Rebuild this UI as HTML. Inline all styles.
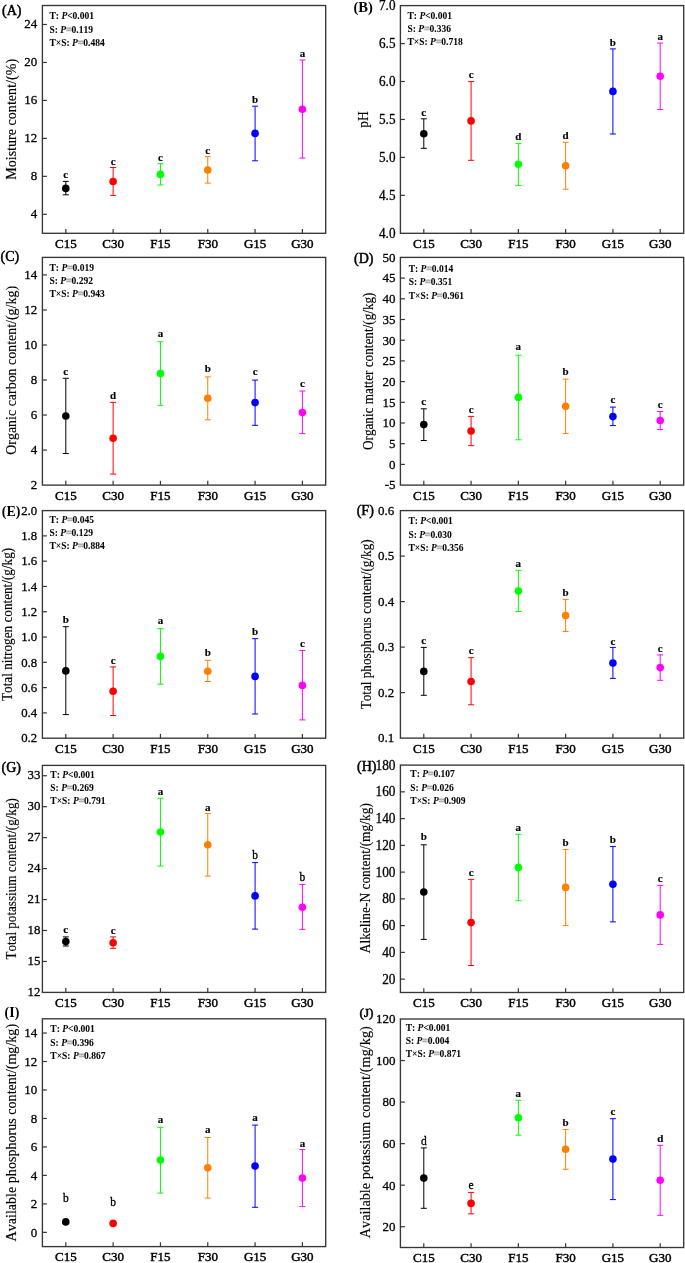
<!DOCTYPE html>
<html><head><meta charset="utf-8"><style>
html,body{margin:0;padding:0;background:#fff;}
svg{display:block;filter:blur(0.35px);}
text{font-family:"Liberation Serif",serif;font-kerning:none;fill:#000;stroke:#000;stroke-width:0;}
.fr{fill:none;stroke:#363636;stroke-width:1.35;}
.tk{stroke:#363636;stroke-width:1.2;}
.eb{fill:none;stroke-width:1.0;}
.yl{text-anchor:end;stroke-width:0.3px;}
.xl{text-anchor:middle;font-weight:normal;stroke-width:0.45px;}
.yt{text-anchor:middle;stroke-width:0.15px;}
.pl{font-size:14px;font-weight:normal;stroke-width:0.5px;}
.st{font-size:9.5px;font-weight:bold;stroke-width:0.06px;}
.it{font-style:italic;}
.eq{fill:#b0b0b0;stroke:#b0b0b0;stroke-width:0.9px;}
.lb{font-size:11px;font-weight:bold;text-anchor:middle;stroke-width:0.15px;}
.lr{font-size:11.5px;text-anchor:middle;stroke-width:0.3px;}
</style></head><body>
<svg width="685" height="1263" viewBox="0 0 685 1263">
<g><rect x="42.4" y="5.5" width="283.3" height="227.8" class="fr"/><line x1="42.4" y1="214.32" x2="46.9" y2="214.32" class="tk"/><text transform="translate(37.2,218.07) scale(0.9709,1)" class="yl" style="font-size:13.39px">4</text><line x1="42.4" y1="176.35" x2="46.9" y2="176.35" class="tk"/><text transform="translate(37.2,180.11) scale(0.9709,1)" class="yl" style="font-size:13.39px">8</text><line x1="42.4" y1="138.38" x2="46.9" y2="138.38" class="tk"/><text transform="translate(37.2,142.14) scale(0.9709,1)" class="yl" style="font-size:13.39px">12</text><line x1="42.4" y1="100.42" x2="46.9" y2="100.42" class="tk"/><text transform="translate(37.2,104.17) scale(0.9709,1)" class="yl" style="font-size:13.39px">16</text><line x1="42.4" y1="62.45" x2="46.9" y2="62.45" class="tk"/><text transform="translate(37.2,66.2) scale(0.9709,1)" class="yl" style="font-size:13.39px">20</text><line x1="42.4" y1="24.48" x2="46.9" y2="24.48" class="tk"/><text transform="translate(37.2,28.24) scale(0.9709,1)" class="yl" style="font-size:13.39px">24</text><line x1="65.8" y1="233.3" x2="65.8" y2="229" class="tk"/><text transform="translate(65.8,248.1) scale(1.0000,1)" class="xl" style="font-size:13.00px">C15</text><line x1="113.12" y1="233.3" x2="113.12" y2="229" class="tk"/><text transform="translate(113.12,248.1) scale(1.0000,1)" class="xl" style="font-size:13.00px">C30</text><line x1="160.44" y1="233.3" x2="160.44" y2="229" class="tk"/><text transform="translate(160.44,248.1) scale(1.0000,1)" class="xl" style="font-size:13.00px">F15</text><line x1="207.76" y1="233.3" x2="207.76" y2="229" class="tk"/><text transform="translate(207.76,248.1) scale(1.0000,1)" class="xl" style="font-size:13.00px">F30</text><line x1="255.08" y1="233.3" x2="255.08" y2="229" class="tk"/><text transform="translate(255.08,248.1) scale(1.0000,1)" class="xl" style="font-size:13.00px">G15</text><line x1="302.4" y1="233.3" x2="302.4" y2="229" class="tk"/><text transform="translate(302.4,248.1) scale(1.0000,1)" class="xl" style="font-size:13.00px">G30</text><text transform="translate(15.8,119.4) rotate(-90) scale(0.9217,1)" class="yt" style="font-size:15.30px">Moisture content/(%)</text><text x="2" y="14.6" class="pl" style="font-size:14px">(A)</text><text x="49.5" y="19.3" class="st">T: <tspan class="it">P</tspan>&lt;0.001</text><text x="49.5" y="32.55" class="st">S: <tspan class="it">P</tspan><tspan class="eq">=</tspan>0.119</text><text x="49.5" y="45.8" class="st">T×S: <tspan class="it">P</tspan><tspan class="eq">=</tspan>0.484</text><path d="M65.8 181.4V194.8M62.8 181.4H68.8M62.8 194.8H68.8" stroke="#000000" class="eb"/><circle cx="65.8" cy="188.4" r="3.8" fill="#000000"/><text x="65.8" y="178" class="lb">c</text><path d="M113.12 167.5V195.4M110.12 167.5H116.12M110.12 195.4H116.12" stroke="#ff0000" class="eb"/><circle cx="113.12" cy="181.5" r="3.8" fill="#ff0000"/><text x="113.12" y="164.6" class="lb">c</text><path d="M160.44 163.7V185M157.44 163.7H163.44M157.44 185H163.44" stroke="#00ff00" class="eb"/><circle cx="160.44" cy="174.4" r="3.8" fill="#00ff00"/><text x="160.44" y="160.5" class="lb">c</text><path d="M207.76 156.7V183.1M204.76 156.7H210.76M204.76 183.1H210.76" stroke="#ff8000" class="eb"/><circle cx="207.76" cy="170" r="3.8" fill="#ff8000"/><text x="207.76" y="153.7" class="lb">c</text><path d="M255.08 106.2V160.8M252.08 106.2H258.08M252.08 160.8H258.08" stroke="#0000ff" class="eb"/><circle cx="255.08" cy="133.4" r="3.8" fill="#0000ff"/><text x="255.08" y="103.3" class="lb">b</text><path d="M302.4 60V158.1M299.4 60H305.4M299.4 158.1H305.4" stroke="#ff00ff" class="eb"/><circle cx="302.4" cy="109.2" r="3.8" fill="#ff00ff"/><text x="302.4" y="56.6" class="lb">a</text></g>
<g><rect x="400.4" y="5.6" width="283.3" height="227.7" class="fr"/><text transform="translate(395.5,237.72) scale(0.9709,1)" class="yl" style="font-size:13.60px">4.0</text><line x1="400.4" y1="195.35" x2="404.9" y2="195.35" class="tk"/><text transform="translate(395.5,199.77) scale(0.9709,1)" class="yl" style="font-size:13.60px">4.5</text><line x1="400.4" y1="157.4" x2="404.9" y2="157.4" class="tk"/><text transform="translate(395.5,161.82) scale(0.9709,1)" class="yl" style="font-size:13.60px">5.0</text><line x1="400.4" y1="119.45" x2="404.9" y2="119.45" class="tk"/><text transform="translate(395.5,123.87) scale(0.9709,1)" class="yl" style="font-size:13.60px">5.5</text><line x1="400.4" y1="81.5" x2="404.9" y2="81.5" class="tk"/><text transform="translate(395.5,85.92) scale(0.9709,1)" class="yl" style="font-size:13.60px">6.0</text><line x1="400.4" y1="43.55" x2="404.9" y2="43.55" class="tk"/><text transform="translate(395.5,47.97) scale(0.9709,1)" class="yl" style="font-size:13.60px">6.5</text><text transform="translate(395.5,10.02) scale(0.9709,1)" class="yl" style="font-size:13.60px">7.0</text><line x1="423.8" y1="233.3" x2="423.8" y2="229" class="tk"/><text transform="translate(423.8,248.1) scale(1.0000,1)" class="xl" style="font-size:13.00px">C15</text><line x1="471.08" y1="233.3" x2="471.08" y2="229" class="tk"/><text transform="translate(471.08,248.1) scale(1.0000,1)" class="xl" style="font-size:13.00px">C30</text><line x1="518.36" y1="233.3" x2="518.36" y2="229" class="tk"/><text transform="translate(518.36,248.1) scale(1.0000,1)" class="xl" style="font-size:13.00px">F15</text><line x1="565.64" y1="233.3" x2="565.64" y2="229" class="tk"/><text transform="translate(565.64,248.1) scale(1.0000,1)" class="xl" style="font-size:13.00px">F30</text><line x1="612.92" y1="233.3" x2="612.92" y2="229" class="tk"/><text transform="translate(612.92,248.1) scale(1.0000,1)" class="xl" style="font-size:13.00px">G15</text><line x1="660.2" y1="233.3" x2="660.2" y2="229" class="tk"/><text transform="translate(660.2,248.1) scale(1.0000,1)" class="xl" style="font-size:13.00px">G30</text><text transform="translate(367.9,119.45) rotate(-90) scale(0.9217,1)" class="yt" style="font-size:14.65px">pH</text><text x="353.5" y="12.2" class="pl" style="font-size:14.6px;font-weight:bold;stroke-width:0">(B)</text><text x="407.5" y="18.9" class="st">T: <tspan class="it">P</tspan>&lt;0.001</text><text x="407.5" y="32.15" class="st">S: <tspan class="it">P</tspan><tspan class="eq">=</tspan>0.336</text><text x="407.5" y="45.4" class="st">T×S: <tspan class="it">P</tspan><tspan class="eq">=</tspan>0.718</text><path d="M423.8 118.8V148.3M420.8 118.8H426.8M420.8 148.3H426.8" stroke="#000000" class="eb"/><circle cx="423.8" cy="133.7" r="3.8" fill="#000000"/><text x="423.8" y="115.6" class="lb">c</text><path d="M471.08 81.6V160.3M468.08 81.6H474.08M468.08 160.3H474.08" stroke="#ff0000" class="eb"/><circle cx="471.08" cy="120.9" r="3.8" fill="#ff0000"/><text x="471.08" y="78.3" class="lb">c</text><path d="M518.36 143.4V185.4M515.36 143.4H521.36M515.36 185.4H521.36" stroke="#00ff00" class="eb"/><circle cx="518.36" cy="164.2" r="3.8" fill="#00ff00"/><text x="518.36" y="140.1" class="lb">d</text><path d="M565.64 142.3V189.2M562.64 142.3H568.64M562.64 189.2H568.64" stroke="#ff8000" class="eb"/><circle cx="565.64" cy="165.7" r="3.8" fill="#ff8000"/><text x="565.64" y="139.1" class="lb">d</text><path d="M612.92 48.9V134M609.92 48.9H615.92M609.92 134H615.92" stroke="#0000ff" class="eb"/><circle cx="612.92" cy="91.4" r="3.8" fill="#0000ff"/><text x="612.92" y="46" class="lb">b</text><path d="M660.2 43.1V109.5M657.2 43.1H663.2M657.2 109.5H663.2" stroke="#ff00ff" class="eb"/><circle cx="660.2" cy="76.2" r="3.8" fill="#ff00ff"/><text x="660.2" y="40.1" class="lb">a</text></g>
<g><rect x="42.4" y="257.4" width="283.3" height="227.7" class="fr"/><text transform="translate(37.2,489.46) scale(0.9709,1)" class="yl" style="font-size:13.39px">2</text><line x1="42.4" y1="450.07" x2="46.9" y2="450.07" class="tk"/><text transform="translate(37.2,454.42) scale(0.9709,1)" class="yl" style="font-size:13.39px">4</text><line x1="42.4" y1="415.04" x2="46.9" y2="415.04" class="tk"/><text transform="translate(37.2,419.39) scale(0.9709,1)" class="yl" style="font-size:13.39px">6</text><line x1="42.4" y1="380.01" x2="46.9" y2="380.01" class="tk"/><text transform="translate(37.2,384.36) scale(0.9709,1)" class="yl" style="font-size:13.39px">8</text><line x1="42.4" y1="344.98" x2="46.9" y2="344.98" class="tk"/><text transform="translate(37.2,349.33) scale(0.9709,1)" class="yl" style="font-size:13.39px">10</text><line x1="42.4" y1="309.95" x2="46.9" y2="309.95" class="tk"/><text transform="translate(37.2,314.3) scale(0.9709,1)" class="yl" style="font-size:13.39px">12</text><line x1="42.4" y1="274.92" x2="46.9" y2="274.92" class="tk"/><text transform="translate(37.2,279.27) scale(0.9709,1)" class="yl" style="font-size:13.39px">14</text><line x1="65.8" y1="485.1" x2="65.8" y2="480.8" class="tk"/><text transform="translate(65.8,499.9) scale(1.0000,1)" class="xl" style="font-size:13.00px">C15</text><line x1="113.12" y1="485.1" x2="113.12" y2="480.8" class="tk"/><text transform="translate(113.12,499.9) scale(1.0000,1)" class="xl" style="font-size:13.00px">C30</text><line x1="160.44" y1="485.1" x2="160.44" y2="480.8" class="tk"/><text transform="translate(160.44,499.9) scale(1.0000,1)" class="xl" style="font-size:13.00px">F15</text><line x1="207.76" y1="485.1" x2="207.76" y2="480.8" class="tk"/><text transform="translate(207.76,499.9) scale(1.0000,1)" class="xl" style="font-size:13.00px">F30</text><line x1="255.08" y1="485.1" x2="255.08" y2="480.8" class="tk"/><text transform="translate(255.08,499.9) scale(1.0000,1)" class="xl" style="font-size:13.00px">G15</text><line x1="302.4" y1="485.1" x2="302.4" y2="480.8" class="tk"/><text transform="translate(302.4,499.9) scale(1.0000,1)" class="xl" style="font-size:13.00px">G30</text><text transform="translate(15.8,370.35) rotate(-90) scale(0.9217,1)" class="yt" style="font-size:15.14px">Organic carbon content/(g/kg)</text><text x="0.6" y="261.1" class="pl" style="font-size:14px">(C)</text><text x="49.5" y="270.9" class="st">T: <tspan class="it">P</tspan><tspan class="eq">=</tspan>0.019</text><text x="49.5" y="284.15" class="st">S: <tspan class="it">P</tspan><tspan class="eq">=</tspan>0.292</text><text x="49.5" y="297.4" class="st">T×S: <tspan class="it">P</tspan><tspan class="eq">=</tspan>0.943</text><path d="M65.8 378.3V453.5M62.8 378.3H68.8M62.8 453.5H68.8" stroke="#000000" class="eb"/><circle cx="65.8" cy="416" r="3.8" fill="#000000"/><text x="65.8" y="374.7" class="lb">c</text><path d="M113.12 402.4V474.1M110.12 402.4H116.12M110.12 474.1H116.12" stroke="#ff0000" class="eb"/><circle cx="113.12" cy="438.2" r="3.8" fill="#ff0000"/><text x="113.12" y="398.8" class="lb">d</text><path d="M160.44 341.8V405.3M157.44 341.8H163.44M157.44 405.3H163.44" stroke="#00ff00" class="eb"/><circle cx="160.44" cy="373.5" r="3.8" fill="#00ff00"/><text x="160.44" y="337" class="lb">a</text><path d="M207.76 376.9V419.8M204.76 376.9H210.76M204.76 419.8H210.76" stroke="#ff8000" class="eb"/><circle cx="207.76" cy="398.2" r="3.8" fill="#ff8000"/><text x="207.76" y="372" class="lb">b</text><path d="M255.08 380.1V425.3M252.08 380.1H258.08M252.08 425.3H258.08" stroke="#0000ff" class="eb"/><circle cx="255.08" cy="402.6" r="3.8" fill="#0000ff"/><text x="255.08" y="374.5" class="lb">c</text><path d="M302.4 391V433.6M299.4 391H305.4M299.4 433.6H305.4" stroke="#ff00ff" class="eb"/><circle cx="302.4" cy="412.5" r="3.8" fill="#ff00ff"/><text x="302.4" y="386.9" class="lb">c</text></g>
<g><rect x="400.4" y="257.4" width="283.3" height="227.7" class="fr"/><text transform="translate(395.5,489.46) scale(0.9709,1)" class="yl" style="font-size:13.39px">-5</text><line x1="400.4" y1="464.4" x2="404.9" y2="464.4" class="tk"/><text transform="translate(395.5,468.76) scale(0.9709,1)" class="yl" style="font-size:13.39px">0</text><line x1="400.4" y1="443.7" x2="404.9" y2="443.7" class="tk"/><text transform="translate(395.5,448.06) scale(0.9709,1)" class="yl" style="font-size:13.39px">5</text><line x1="400.4" y1="423" x2="404.9" y2="423" class="tk"/><text transform="translate(395.5,427.36) scale(0.9709,1)" class="yl" style="font-size:13.39px">10</text><line x1="400.4" y1="402.3" x2="404.9" y2="402.3" class="tk"/><text transform="translate(395.5,406.66) scale(0.9709,1)" class="yl" style="font-size:13.39px">15</text><line x1="400.4" y1="381.6" x2="404.9" y2="381.6" class="tk"/><text transform="translate(395.5,385.96) scale(0.9709,1)" class="yl" style="font-size:13.39px">20</text><line x1="400.4" y1="360.9" x2="404.9" y2="360.9" class="tk"/><text transform="translate(395.5,365.25) scale(0.9709,1)" class="yl" style="font-size:13.39px">25</text><line x1="400.4" y1="340.2" x2="404.9" y2="340.2" class="tk"/><text transform="translate(395.5,344.56) scale(0.9709,1)" class="yl" style="font-size:13.39px">30</text><line x1="400.4" y1="319.5" x2="404.9" y2="319.5" class="tk"/><text transform="translate(395.5,323.86) scale(0.9709,1)" class="yl" style="font-size:13.39px">35</text><line x1="400.4" y1="298.8" x2="404.9" y2="298.8" class="tk"/><text transform="translate(395.5,303.15) scale(0.9709,1)" class="yl" style="font-size:13.39px">40</text><line x1="400.4" y1="278.1" x2="404.9" y2="278.1" class="tk"/><text transform="translate(395.5,282.46) scale(0.9709,1)" class="yl" style="font-size:13.39px">45</text><text transform="translate(395.5,261.75) scale(0.9709,1)" class="yl" style="font-size:13.39px">50</text><line x1="423.8" y1="485.1" x2="423.8" y2="480.8" class="tk"/><text transform="translate(423.8,499.9) scale(1.0000,1)" class="xl" style="font-size:13.00px">C15</text><line x1="471.08" y1="485.1" x2="471.08" y2="480.8" class="tk"/><text transform="translate(471.08,499.9) scale(1.0000,1)" class="xl" style="font-size:13.00px">C30</text><line x1="518.36" y1="485.1" x2="518.36" y2="480.8" class="tk"/><text transform="translate(518.36,499.9) scale(1.0000,1)" class="xl" style="font-size:13.00px">F15</text><line x1="565.64" y1="485.1" x2="565.64" y2="480.8" class="tk"/><text transform="translate(565.64,499.9) scale(1.0000,1)" class="xl" style="font-size:13.00px">F30</text><line x1="612.92" y1="485.1" x2="612.92" y2="480.8" class="tk"/><text transform="translate(612.92,499.9) scale(1.0000,1)" class="xl" style="font-size:13.00px">G15</text><line x1="660.2" y1="485.1" x2="660.2" y2="480.8" class="tk"/><text transform="translate(660.2,499.9) scale(1.0000,1)" class="xl" style="font-size:13.00px">G30</text><text transform="translate(372.6,371.25) rotate(-90) scale(0.9217,1)" class="yt" style="font-size:14.32px">Organic matter content/(g/kg)</text><text x="354.1" y="262.5" class="pl" style="font-size:14px">(D)</text><text x="408.7" y="272" class="st">T: <tspan class="it">P</tspan><tspan class="eq">=</tspan>0.014</text><text x="408.7" y="285.25" class="st">S: <tspan class="it">P</tspan><tspan class="eq">=</tspan>0.351</text><text x="408.7" y="298.5" class="st">T×S: <tspan class="it">P</tspan><tspan class="eq">=</tspan>0.961</text><path d="M423.8 408.8V440.5M420.8 408.8H426.8M420.8 440.5H426.8" stroke="#000000" class="eb"/><circle cx="423.8" cy="424.6" r="3.8" fill="#000000"/><text x="423.8" y="405.2" class="lb">c</text><path d="M471.08 416.4V445.6M468.08 416.4H474.08M468.08 445.6H474.08" stroke="#ff0000" class="eb"/><circle cx="471.08" cy="431" r="3.8" fill="#ff0000"/><text x="471.08" y="413.2" class="lb">c</text><path d="M518.36 355.3V439.8M515.36 355.3H521.36M515.36 439.8H521.36" stroke="#00ff00" class="eb"/><circle cx="518.36" cy="397.4" r="3.8" fill="#00ff00"/><text x="518.36" y="350.4" class="lb">a</text><path d="M565.64 379.2V433.4M562.64 379.2H568.64M562.64 433.4H568.64" stroke="#ff8000" class="eb"/><circle cx="565.64" cy="406.2" r="3.8" fill="#ff8000"/><text x="565.64" y="375.3" class="lb">b</text><path d="M612.92 407.1V425.6M609.92 407.1H615.92M609.92 425.6H615.92" stroke="#0000ff" class="eb"/><circle cx="612.92" cy="416.6" r="3.8" fill="#0000ff"/><text x="612.92" y="403" class="lb">c</text><path d="M660.2 411.5V429.6M657.2 411.5H663.2M657.2 429.6H663.2" stroke="#ff00ff" class="eb"/><circle cx="660.2" cy="420.5" r="3.8" fill="#ff00ff"/><text x="660.2" y="407.8" class="lb">c</text></g>
<g><rect x="42.4" y="510.6" width="283.3" height="227.6" class="fr"/><text transform="translate(37.2,742.49) scale(0.9709,1)" class="yl" style="font-size:13.18px">0.2</text><line x1="42.4" y1="712.91" x2="46.9" y2="712.91" class="tk"/><text transform="translate(37.2,717.2) scale(0.9709,1)" class="yl" style="font-size:13.18px">0.4</text><line x1="42.4" y1="687.62" x2="46.9" y2="687.62" class="tk"/><text transform="translate(37.2,691.91) scale(0.9709,1)" class="yl" style="font-size:13.18px">0.6</text><line x1="42.4" y1="662.33" x2="46.9" y2="662.33" class="tk"/><text transform="translate(37.2,666.62) scale(0.9709,1)" class="yl" style="font-size:13.18px">0.8</text><line x1="42.4" y1="637.04" x2="46.9" y2="637.04" class="tk"/><text transform="translate(37.2,641.33) scale(0.9709,1)" class="yl" style="font-size:13.18px">1.0</text><line x1="42.4" y1="611.76" x2="46.9" y2="611.76" class="tk"/><text transform="translate(37.2,616.04) scale(0.9709,1)" class="yl" style="font-size:13.18px">1.2</text><line x1="42.4" y1="586.47" x2="46.9" y2="586.47" class="tk"/><text transform="translate(37.2,590.75) scale(0.9709,1)" class="yl" style="font-size:13.18px">1.4</text><line x1="42.4" y1="561.18" x2="46.9" y2="561.18" class="tk"/><text transform="translate(37.2,565.47) scale(0.9709,1)" class="yl" style="font-size:13.18px">1.6</text><line x1="42.4" y1="535.89" x2="46.9" y2="535.89" class="tk"/><text transform="translate(37.2,540.18) scale(0.9709,1)" class="yl" style="font-size:13.18px">1.8</text><text transform="translate(37.2,514.89) scale(0.9709,1)" class="yl" style="font-size:13.18px">2.0</text><line x1="65.8" y1="738.2" x2="65.8" y2="733.9" class="tk"/><text transform="translate(65.8,753) scale(1.0000,1)" class="xl" style="font-size:13.00px">C15</text><line x1="113.12" y1="738.2" x2="113.12" y2="733.9" class="tk"/><text transform="translate(113.12,753) scale(1.0000,1)" class="xl" style="font-size:13.00px">C30</text><line x1="160.44" y1="738.2" x2="160.44" y2="733.9" class="tk"/><text transform="translate(160.44,753) scale(1.0000,1)" class="xl" style="font-size:13.00px">F15</text><line x1="207.76" y1="738.2" x2="207.76" y2="733.9" class="tk"/><text transform="translate(207.76,753) scale(1.0000,1)" class="xl" style="font-size:13.00px">F30</text><line x1="255.08" y1="738.2" x2="255.08" y2="733.9" class="tk"/><text transform="translate(255.08,753) scale(1.0000,1)" class="xl" style="font-size:13.00px">G15</text><line x1="302.4" y1="738.2" x2="302.4" y2="733.9" class="tk"/><text transform="translate(302.4,753) scale(1.0000,1)" class="xl" style="font-size:13.00px">G30</text><text transform="translate(12,624.4) rotate(-90) scale(0.9217,1)" class="yt" style="font-size:14.32px">Total nitrogen content/(g/kg)</text><text x="1.75" y="516.3" class="pl" style="font-size:14px;font-weight:bold;stroke-width:0">(E)</text><text x="49.5" y="522.6" class="st">T: <tspan class="it">P</tspan><tspan class="eq">=</tspan>0.045</text><text x="49.5" y="535.85" class="st">S: <tspan class="it">P</tspan><tspan class="eq">=</tspan>0.129</text><text x="49.5" y="549.1" class="st">T×S: <tspan class="it">P</tspan><tspan class="eq">=</tspan>0.884</text><path d="M65.8 626.7V714.6M62.8 626.7H68.8M62.8 714.6H68.8" stroke="#000000" class="eb"/><circle cx="65.8" cy="670.9" r="3.8" fill="#000000"/><text x="65.8" y="622.6" class="lb">b</text><path d="M113.12 666.9V715.5M110.12 666.9H116.12M110.12 715.5H116.12" stroke="#ff0000" class="eb"/><circle cx="113.12" cy="691.2" r="3.8" fill="#ff0000"/><text x="113.12" y="663.5" class="lb">c</text><path d="M160.44 628.6V684.2M157.44 628.6H163.44M157.44 684.2H163.44" stroke="#00ff00" class="eb"/><circle cx="160.44" cy="656.4" r="3.8" fill="#00ff00"/><text x="160.44" y="624.1" class="lb">a</text><path d="M207.76 660.3V681.5M204.76 660.3H210.76M204.76 681.5H210.76" stroke="#ff8000" class="eb"/><circle cx="207.76" cy="671.2" r="3.8" fill="#ff8000"/><text x="207.76" y="655.9" class="lb">b</text><path d="M255.08 638.7V714M252.08 638.7H258.08M252.08 714H258.08" stroke="#0000ff" class="eb"/><circle cx="255.08" cy="676.4" r="3.8" fill="#0000ff"/><text x="255.08" y="634.7" class="lb">b</text><path d="M302.4 650.5V719.9M299.4 650.5H305.4M299.4 719.9H305.4" stroke="#ff00ff" class="eb"/><circle cx="302.4" cy="685.4" r="3.8" fill="#ff00ff"/><text x="302.4" y="647.4" class="lb">c</text></g>
<g><rect x="400.4" y="510.6" width="283.3" height="227.5" class="fr"/><text transform="translate(394.3,742.46) scale(0.9709,1)" class="yl" style="font-size:13.39px">0.1</text><line x1="400.4" y1="692.6" x2="404.9" y2="692.6" class="tk"/><text transform="translate(394.3,696.96) scale(0.9709,1)" class="yl" style="font-size:13.39px">0.2</text><line x1="400.4" y1="647.1" x2="404.9" y2="647.1" class="tk"/><text transform="translate(394.3,651.46) scale(0.9709,1)" class="yl" style="font-size:13.39px">0.3</text><line x1="400.4" y1="601.6" x2="404.9" y2="601.6" class="tk"/><text transform="translate(394.3,605.96) scale(0.9709,1)" class="yl" style="font-size:13.39px">0.4</text><line x1="400.4" y1="556.1" x2="404.9" y2="556.1" class="tk"/><text transform="translate(394.3,560.46) scale(0.9709,1)" class="yl" style="font-size:13.39px">0.5</text><text transform="translate(394.3,514.95) scale(0.9709,1)" class="yl" style="font-size:13.39px">0.6</text><line x1="423.8" y1="738.1" x2="423.8" y2="733.8" class="tk"/><text transform="translate(423.8,752.9) scale(1.0000,1)" class="xl" style="font-size:13.00px">C15</text><line x1="471.08" y1="738.1" x2="471.08" y2="733.8" class="tk"/><text transform="translate(471.08,752.9) scale(1.0000,1)" class="xl" style="font-size:13.00px">C30</text><line x1="518.36" y1="738.1" x2="518.36" y2="733.8" class="tk"/><text transform="translate(518.36,752.9) scale(1.0000,1)" class="xl" style="font-size:13.00px">F15</text><line x1="565.64" y1="738.1" x2="565.64" y2="733.8" class="tk"/><text transform="translate(565.64,752.9) scale(1.0000,1)" class="xl" style="font-size:13.00px">F30</text><line x1="612.92" y1="738.1" x2="612.92" y2="733.8" class="tk"/><text transform="translate(612.92,752.9) scale(1.0000,1)" class="xl" style="font-size:13.00px">G15</text><line x1="660.2" y1="738.1" x2="660.2" y2="733.8" class="tk"/><text transform="translate(660.2,752.9) scale(1.0000,1)" class="xl" style="font-size:13.00px">G30</text><text transform="translate(370.6,624.35) rotate(-90) scale(0.9217,1)" class="yt" style="font-size:14.32px">Total phosphorus content/(g/kg)</text><text x="356.7" y="515" class="pl" style="font-size:14px">(F)</text><text x="408.4" y="524.3" class="st">T: <tspan class="it">P</tspan>&lt;0.001</text><text x="408.4" y="537.55" class="st">S: <tspan class="it">P</tspan><tspan class="eq">=</tspan>0.030</text><text x="408.4" y="550.8" class="st">T×S: <tspan class="it">P</tspan><tspan class="eq">=</tspan>0.356</text><path d="M423.8 647.4V695.3M420.8 647.4H426.8M420.8 695.3H426.8" stroke="#000000" class="eb"/><circle cx="423.8" cy="671.4" r="3.8" fill="#000000"/><text x="423.8" y="643.9" class="lb">c</text><path d="M471.08 657.7V704.8M468.08 657.7H474.08M468.08 704.8H474.08" stroke="#ff0000" class="eb"/><circle cx="471.08" cy="681.5" r="3.8" fill="#ff0000"/><text x="471.08" y="654.2" class="lb">c</text><path d="M518.36 570.4V611.5M515.36 570.4H521.36M515.36 611.5H521.36" stroke="#00ff00" class="eb"/><circle cx="518.36" cy="591.1" r="3.8" fill="#00ff00"/><text x="518.36" y="567" class="lb">a</text><path d="M565.64 599.4V631.5M562.64 599.4H568.64M562.64 631.5H568.64" stroke="#ff8000" class="eb"/><circle cx="565.64" cy="615.5" r="3.8" fill="#ff8000"/><text x="565.64" y="596.2" class="lb">b</text><path d="M612.92 647.4V678.4M609.92 647.4H615.92M609.92 678.4H615.92" stroke="#0000ff" class="eb"/><circle cx="612.92" cy="663.1" r="3.8" fill="#0000ff"/><text x="612.92" y="644.5" class="lb">c</text><path d="M660.2 654.9V680.3M657.2 654.9H663.2M657.2 680.3H663.2" stroke="#ff00ff" class="eb"/><circle cx="660.2" cy="667.6" r="3.8" fill="#ff00ff"/><text x="660.2" y="652.1" class="lb">c</text></g>
<g><rect x="42.4" y="765.4" width="283.3" height="227" class="fr"/><text transform="translate(40.4,995.62) scale(0.9709,1)" class="yl" style="font-size:13.29px">12</text><line x1="42.4" y1="961.45" x2="46.9" y2="961.45" class="tk"/><text transform="translate(40.4,964.67) scale(0.9709,1)" class="yl" style="font-size:13.29px">15</text><line x1="42.4" y1="930.49" x2="46.9" y2="930.49" class="tk"/><text transform="translate(40.4,933.71) scale(0.9709,1)" class="yl" style="font-size:13.29px">18</text><line x1="42.4" y1="899.54" x2="46.9" y2="899.54" class="tk"/><text transform="translate(40.4,902.76) scale(0.9709,1)" class="yl" style="font-size:13.29px">21</text><line x1="42.4" y1="868.58" x2="46.9" y2="868.58" class="tk"/><text transform="translate(40.4,871.8) scale(0.9709,1)" class="yl" style="font-size:13.29px">24</text><line x1="42.4" y1="837.63" x2="46.9" y2="837.63" class="tk"/><text transform="translate(40.4,840.85) scale(0.9709,1)" class="yl" style="font-size:13.29px">27</text><line x1="42.4" y1="806.67" x2="46.9" y2="806.67" class="tk"/><text transform="translate(40.4,809.89) scale(0.9709,1)" class="yl" style="font-size:13.29px">30</text><line x1="42.4" y1="775.72" x2="46.9" y2="775.72" class="tk"/><text transform="translate(40.4,778.94) scale(0.9709,1)" class="yl" style="font-size:13.29px">33</text><line x1="65.8" y1="992.4" x2="65.8" y2="988.1" class="tk"/><text transform="translate(65.8,1007.2) scale(1.0000,1)" class="xl" style="font-size:13.00px">C15</text><line x1="113.12" y1="992.4" x2="113.12" y2="988.1" class="tk"/><text transform="translate(113.12,1007.2) scale(1.0000,1)" class="xl" style="font-size:13.00px">C30</text><line x1="160.44" y1="992.4" x2="160.44" y2="988.1" class="tk"/><text transform="translate(160.44,1007.2) scale(1.0000,1)" class="xl" style="font-size:13.00px">F15</text><line x1="207.76" y1="992.4" x2="207.76" y2="988.1" class="tk"/><text transform="translate(207.76,1007.2) scale(1.0000,1)" class="xl" style="font-size:13.00px">F30</text><line x1="255.08" y1="992.4" x2="255.08" y2="988.1" class="tk"/><text transform="translate(255.08,1007.2) scale(1.0000,1)" class="xl" style="font-size:13.00px">G15</text><line x1="302.4" y1="992.4" x2="302.4" y2="988.1" class="tk"/><text transform="translate(302.4,1007.2) scale(1.0000,1)" class="xl" style="font-size:13.00px">G30</text><text transform="translate(15.8,878.9) rotate(-90) scale(0.9217,1)" class="yt" style="font-size:14.21px">Total potassium content/(g/kg)</text><text x="1.5" y="772.4" class="pl" style="font-size:14px">(G)</text><text x="50.3" y="777.6" class="st">T: <tspan class="it">P</tspan>&lt;0.001</text><text x="50.3" y="790.85" class="st">S: <tspan class="it">P</tspan><tspan class="eq">=</tspan>0.269</text><text x="50.3" y="804.1" class="st">T×S: <tspan class="it">P</tspan><tspan class="eq">=</tspan>0.791</text><path d="M65.8 936.9V946M62.8 936.9H68.8M62.8 946H68.8" stroke="#000000" class="eb"/><circle cx="65.8" cy="941.6" r="3.8" fill="#000000"/><text x="65.8" y="932.8" class="lb">c</text><path d="M113.12 936.9V948.3M110.12 936.9H116.12M110.12 948.3H116.12" stroke="#ff0000" class="eb"/><circle cx="113.12" cy="942.8" r="3.8" fill="#ff0000"/><text x="113.12" y="933.7" class="lb">c</text><path d="M160.44 798.2V866.1M157.44 798.2H163.44M157.44 866.1H163.44" stroke="#00ff00" class="eb"/><circle cx="160.44" cy="832" r="3.8" fill="#00ff00"/><text x="160.44" y="794.9" class="lb">a</text><path d="M207.76 813.6V876.1M204.76 813.6H210.76M204.76 876.1H210.76" stroke="#ff8000" class="eb"/><circle cx="207.76" cy="844.8" r="3.8" fill="#ff8000"/><text x="207.76" y="810.7" class="lb">a</text><path d="M255.08 862.6V929.1M252.08 862.6H258.08M252.08 929.1H258.08" stroke="#0000ff" class="eb"/><circle cx="255.08" cy="895.9" r="3.8" fill="#0000ff"/><text x="255.08" y="859.3" class="lr">b</text><path d="M302.4 884.4V929.3M299.4 884.4H305.4M299.4 929.3H305.4" stroke="#ff00ff" class="eb"/><circle cx="302.4" cy="907.2" r="3.8" fill="#ff00ff"/><text x="302.4" y="881.2" class="lr">b</text></g>
<g><rect x="400.4" y="765.1" width="283.3" height="227.4" class="fr"/><line x1="400.4" y1="979.12" x2="404.9" y2="979.12" class="tk"/><text transform="translate(395.5,983.58) scale(0.9709,1)" class="yl" style="font-size:13.70px">20</text><line x1="400.4" y1="952.37" x2="404.9" y2="952.37" class="tk"/><text transform="translate(395.5,956.83) scale(0.9709,1)" class="yl" style="font-size:13.70px">40</text><line x1="400.4" y1="925.62" x2="404.9" y2="925.62" class="tk"/><text transform="translate(395.5,930.07) scale(0.9709,1)" class="yl" style="font-size:13.70px">60</text><line x1="400.4" y1="898.86" x2="404.9" y2="898.86" class="tk"/><text transform="translate(395.5,903.32) scale(0.9709,1)" class="yl" style="font-size:13.70px">80</text><line x1="400.4" y1="872.11" x2="404.9" y2="872.11" class="tk"/><text transform="translate(395.5,876.57) scale(0.9709,1)" class="yl" style="font-size:13.70px">100</text><line x1="400.4" y1="845.36" x2="404.9" y2="845.36" class="tk"/><text transform="translate(395.5,849.81) scale(0.9709,1)" class="yl" style="font-size:13.70px">120</text><line x1="400.4" y1="818.61" x2="404.9" y2="818.61" class="tk"/><text transform="translate(395.5,823.06) scale(0.9709,1)" class="yl" style="font-size:13.70px">140</text><line x1="400.4" y1="791.85" x2="404.9" y2="791.85" class="tk"/><text transform="translate(395.5,796.31) scale(0.9709,1)" class="yl" style="font-size:13.70px">160</text><text transform="translate(395.5,769.56) scale(0.9709,1)" class="yl" style="font-size:13.70px">180</text><line x1="423.8" y1="992.5" x2="423.8" y2="988.2" class="tk"/><text transform="translate(423.8,1007.3) scale(1.0000,1)" class="xl" style="font-size:13.00px">C15</text><line x1="471.08" y1="992.5" x2="471.08" y2="988.2" class="tk"/><text transform="translate(471.08,1007.3) scale(1.0000,1)" class="xl" style="font-size:13.00px">C30</text><line x1="518.36" y1="992.5" x2="518.36" y2="988.2" class="tk"/><text transform="translate(518.36,1007.3) scale(1.0000,1)" class="xl" style="font-size:13.00px">F15</text><line x1="565.64" y1="992.5" x2="565.64" y2="988.2" class="tk"/><text transform="translate(565.64,1007.3) scale(1.0000,1)" class="xl" style="font-size:13.00px">F30</text><line x1="612.92" y1="992.5" x2="612.92" y2="988.2" class="tk"/><text transform="translate(612.92,1007.3) scale(1.0000,1)" class="xl" style="font-size:13.00px">G15</text><line x1="660.2" y1="992.5" x2="660.2" y2="988.2" class="tk"/><text transform="translate(660.2,1007.3) scale(1.0000,1)" class="xl" style="font-size:13.00px">G30</text><text transform="translate(369.6,878.2) rotate(-90) scale(0.9217,1)" class="yt" style="font-size:14.56px">Alkeline-N content/(mg/kg)</text><text x="357" y="770.7" class="pl" style="font-size:14px">(H)</text><text x="410.3" y="777.3" class="st">T: <tspan class="it">P</tspan><tspan class="eq">=</tspan>0.107</text><text x="410.3" y="790.55" class="st">S: <tspan class="it">P</tspan><tspan class="eq">=</tspan>0.026</text><text x="410.3" y="803.8" class="st">T×S: <tspan class="it">P</tspan><tspan class="eq">=</tspan>0.909</text><path d="M423.8 844.8V939.4M420.8 844.8H426.8M420.8 939.4H426.8" stroke="#000000" class="eb"/><circle cx="423.8" cy="892" r="3.8" fill="#000000"/><text x="423.8" y="840" class="lb">b</text><path d="M471.08 879.4V965.5M468.08 879.4H474.08M468.08 965.5H474.08" stroke="#ff0000" class="eb"/><circle cx="471.08" cy="922.6" r="3.8" fill="#ff0000"/><text x="471.08" y="875.5" class="lb">c</text><path d="M518.36 834.3V900.7M515.36 834.3H521.36M515.36 900.7H521.36" stroke="#00ff00" class="eb"/><circle cx="518.36" cy="867.4" r="3.8" fill="#00ff00"/><text x="518.36" y="831" class="lb">a</text><path d="M565.64 849.5V925.4M562.64 849.5H568.64M562.64 925.4H568.64" stroke="#ff8000" class="eb"/><circle cx="565.64" cy="887.4" r="3.8" fill="#ff8000"/><text x="565.64" y="845.5" class="lb">b</text><path d="M612.92 846.6V921.9M609.92 846.6H615.92M609.92 921.9H615.92" stroke="#0000ff" class="eb"/><circle cx="612.92" cy="884.2" r="3.8" fill="#0000ff"/><text x="612.92" y="843.4" class="lb">b</text><path d="M660.2 885.4V944.4M657.2 885.4H663.2M657.2 944.4H663.2" stroke="#ff00ff" class="eb"/><circle cx="660.2" cy="914.9" r="3.8" fill="#ff00ff"/><text x="660.2" y="882" class="lb">c</text></g>
<g><rect x="42.4" y="1018.8" width="283.3" height="227.8" class="fr"/><line x1="42.4" y1="1232.36" x2="46.9" y2="1232.36" class="tk"/><text transform="translate(37.2,1236.72) scale(0.9709,1)" class="yl" style="font-size:13.39px">0</text><line x1="42.4" y1="1203.89" x2="46.9" y2="1203.89" class="tk"/><text transform="translate(37.2,1208.24) scale(0.9709,1)" class="yl" style="font-size:13.39px">2</text><line x1="42.4" y1="1175.41" x2="46.9" y2="1175.41" class="tk"/><text transform="translate(37.2,1179.77) scale(0.9709,1)" class="yl" style="font-size:13.39px">4</text><line x1="42.4" y1="1146.94" x2="46.9" y2="1146.94" class="tk"/><text transform="translate(37.2,1151.29) scale(0.9709,1)" class="yl" style="font-size:13.39px">6</text><line x1="42.4" y1="1118.46" x2="46.9" y2="1118.46" class="tk"/><text transform="translate(37.2,1122.82) scale(0.9709,1)" class="yl" style="font-size:13.39px">8</text><line x1="42.4" y1="1089.99" x2="46.9" y2="1089.99" class="tk"/><text transform="translate(37.2,1094.34) scale(0.9709,1)" class="yl" style="font-size:13.39px">10</text><line x1="42.4" y1="1061.51" x2="46.9" y2="1061.51" class="tk"/><text transform="translate(37.2,1065.87) scale(0.9709,1)" class="yl" style="font-size:13.39px">12</text><line x1="42.4" y1="1033.04" x2="46.9" y2="1033.04" class="tk"/><text transform="translate(37.2,1037.39) scale(0.9709,1)" class="yl" style="font-size:13.39px">14</text><line x1="65.8" y1="1246.6" x2="65.8" y2="1242.3" class="tk"/><text transform="translate(65.8,1261.4) scale(1.0000,1)" class="xl" style="font-size:13.00px">C15</text><line x1="113.12" y1="1246.6" x2="113.12" y2="1242.3" class="tk"/><text transform="translate(113.12,1261.4) scale(1.0000,1)" class="xl" style="font-size:13.00px">C30</text><line x1="160.44" y1="1246.6" x2="160.44" y2="1242.3" class="tk"/><text transform="translate(160.44,1261.4) scale(1.0000,1)" class="xl" style="font-size:13.00px">F15</text><line x1="207.76" y1="1246.6" x2="207.76" y2="1242.3" class="tk"/><text transform="translate(207.76,1261.4) scale(1.0000,1)" class="xl" style="font-size:13.00px">F30</text><line x1="255.08" y1="1246.6" x2="255.08" y2="1242.3" class="tk"/><text transform="translate(255.08,1261.4) scale(1.0000,1)" class="xl" style="font-size:13.00px">G15</text><line x1="302.4" y1="1246.6" x2="302.4" y2="1242.3" class="tk"/><text transform="translate(302.4,1261.4) scale(1.0000,1)" class="xl" style="font-size:13.00px">G30</text><text transform="translate(16.1,1132.7) rotate(-90) scale(0.9217,1)" class="yt" style="font-size:15.30px">Available phosphorus content/(mg/kg)</text><text x="4.6" y="1017" class="pl" style="font-size:14px;font-weight:bold;stroke-width:0">(I)</text><text x="50.3" y="1032.3" class="st">T: <tspan class="it">P</tspan>&lt;0.001</text><text x="50.3" y="1045.55" class="st">S: <tspan class="it">P</tspan><tspan class="eq">=</tspan>0.396</text><text x="50.3" y="1058.8" class="st">T×S: <tspan class="it">P</tspan><tspan class="eq">=</tspan>0.867</text><path d="M65.8 1220.5V1223.3M62.8 1220.5H68.8M62.8 1223.3H68.8" stroke="#000000" class="eb"/><circle cx="65.8" cy="1221.9" r="3.8" fill="#000000"/><text x="65.8" y="1202.2" class="lr">b</text><path d="M113.12 1222.5V1224.3M110.12 1222.5H116.12M110.12 1224.3H116.12" stroke="#ff0000" class="eb"/><circle cx="113.12" cy="1223.4" r="3.8" fill="#ff0000"/><text x="113.12" y="1205.8" class="lr">b</text><path d="M160.44 1127.3V1193.1M157.44 1127.3H163.44M157.44 1193.1H163.44" stroke="#00ff00" class="eb"/><circle cx="160.44" cy="1160.1" r="3.8" fill="#00ff00"/><text x="160.44" y="1122.9" class="lb">a</text><path d="M207.76 1137.5V1198.1M204.76 1137.5H210.76M204.76 1198.1H210.76" stroke="#ff8000" class="eb"/><circle cx="207.76" cy="1167.7" r="3.8" fill="#ff8000"/><text x="207.76" y="1133.3" class="lb">a</text><path d="M255.08 1125.1V1207.3M252.08 1125.1H258.08M252.08 1207.3H258.08" stroke="#0000ff" class="eb"/><circle cx="255.08" cy="1166.1" r="3.8" fill="#0000ff"/><text x="255.08" y="1121.2" class="lb">a</text><path d="M302.4 1149.6V1206.6M299.4 1149.6H305.4M299.4 1206.6H305.4" stroke="#ff00ff" class="eb"/><circle cx="302.4" cy="1178.1" r="3.8" fill="#ff00ff"/><text x="302.4" y="1147" class="lb">a</text></g>
<g><rect x="400.4" y="1019" width="283.3" height="228.5" class="fr"/><line x1="400.4" y1="1226.73" x2="404.9" y2="1226.73" class="tk"/><text transform="translate(395.5,1231.08) scale(0.9709,1)" class="yl" style="font-size:13.39px">20</text><line x1="400.4" y1="1185.18" x2="404.9" y2="1185.18" class="tk"/><text transform="translate(395.5,1189.54) scale(0.9709,1)" class="yl" style="font-size:13.39px">40</text><line x1="400.4" y1="1143.64" x2="404.9" y2="1143.64" class="tk"/><text transform="translate(395.5,1147.99) scale(0.9709,1)" class="yl" style="font-size:13.39px">60</text><line x1="400.4" y1="1102.09" x2="404.9" y2="1102.09" class="tk"/><text transform="translate(395.5,1106.45) scale(0.9709,1)" class="yl" style="font-size:13.39px">80</text><line x1="400.4" y1="1060.55" x2="404.9" y2="1060.55" class="tk"/><text transform="translate(395.5,1064.9) scale(0.9709,1)" class="yl" style="font-size:13.39px">100</text><text transform="translate(395.5,1023.36) scale(0.9709,1)" class="yl" style="font-size:13.39px">120</text><line x1="423.8" y1="1247.5" x2="423.8" y2="1243.2" class="tk"/><text transform="translate(423.8,1262.3) scale(1.0000,1)" class="xl" style="font-size:13.00px">C15</text><line x1="471.08" y1="1247.5" x2="471.08" y2="1243.2" class="tk"/><text transform="translate(471.08,1262.3) scale(1.0000,1)" class="xl" style="font-size:13.00px">C30</text><line x1="518.36" y1="1247.5" x2="518.36" y2="1243.2" class="tk"/><text transform="translate(518.36,1262.3) scale(1.0000,1)" class="xl" style="font-size:13.00px">F15</text><line x1="565.64" y1="1247.5" x2="565.64" y2="1243.2" class="tk"/><text transform="translate(565.64,1262.3) scale(1.0000,1)" class="xl" style="font-size:13.00px">F30</text><line x1="612.92" y1="1247.5" x2="612.92" y2="1243.2" class="tk"/><text transform="translate(612.92,1262.3) scale(1.0000,1)" class="xl" style="font-size:13.00px">G15</text><line x1="660.2" y1="1247.5" x2="660.2" y2="1243.2" class="tk"/><text transform="translate(660.2,1262.3) scale(1.0000,1)" class="xl" style="font-size:13.00px">G30</text><text transform="translate(369.6,1132.25) rotate(-90) scale(0.9217,1)" class="yt" style="font-size:15.46px">Available potassium content/(mg/kg)</text><text x="359.5" y="1017.3" class="pl" style="font-size:13.3px">(J)</text><text x="405.7" y="1030.6" class="st">T: <tspan class="it">P</tspan>&lt;0.001</text><text x="405.7" y="1043.85" class="st">S: <tspan class="it">P</tspan><tspan class="eq">=</tspan>0.004</text><text x="405.7" y="1057.1" class="st">T×S: <tspan class="it">P</tspan><tspan class="eq">=</tspan>0.871</text><path d="M423.8 1147.9V1208.3M420.8 1147.9H426.8M420.8 1208.3H426.8" stroke="#000000" class="eb"/><circle cx="423.8" cy="1178.1" r="3.8" fill="#000000"/><text x="423.8" y="1144.5" class="lr">d</text><path d="M471.08 1192.4V1213.9M468.08 1192.4H474.08M468.08 1213.9H474.08" stroke="#ff0000" class="eb"/><circle cx="471.08" cy="1203.4" r="3.8" fill="#ff0000"/><text x="471.08" y="1189.1" class="lr">e</text><path d="M518.36 1100.3V1135.2M515.36 1100.3H521.36M515.36 1135.2H521.36" stroke="#00ff00" class="eb"/><circle cx="518.36" cy="1117.8" r="3.8" fill="#00ff00"/><text x="518.36" y="1096.9" class="lb">a</text><path d="M565.64 1129.5V1169.3M562.64 1129.5H568.64M562.64 1169.3H568.64" stroke="#ff8000" class="eb"/><circle cx="565.64" cy="1149.3" r="3.8" fill="#ff8000"/><text x="565.64" y="1125.5" class="lb">b</text><path d="M612.92 1118.7V1199.6M609.92 1118.7H615.92M609.92 1199.6H615.92" stroke="#0000ff" class="eb"/><circle cx="612.92" cy="1159.1" r="3.8" fill="#0000ff"/><text x="612.92" y="1114.6" class="lb">c</text><path d="M660.2 1145.3V1215.3M657.2 1145.3H663.2M657.2 1215.3H663.2" stroke="#ff00ff" class="eb"/><circle cx="660.2" cy="1180.3" r="3.8" fill="#ff00ff"/><text x="660.2" y="1141.6" class="lb">d</text></g>
</svg>
</body></html>
